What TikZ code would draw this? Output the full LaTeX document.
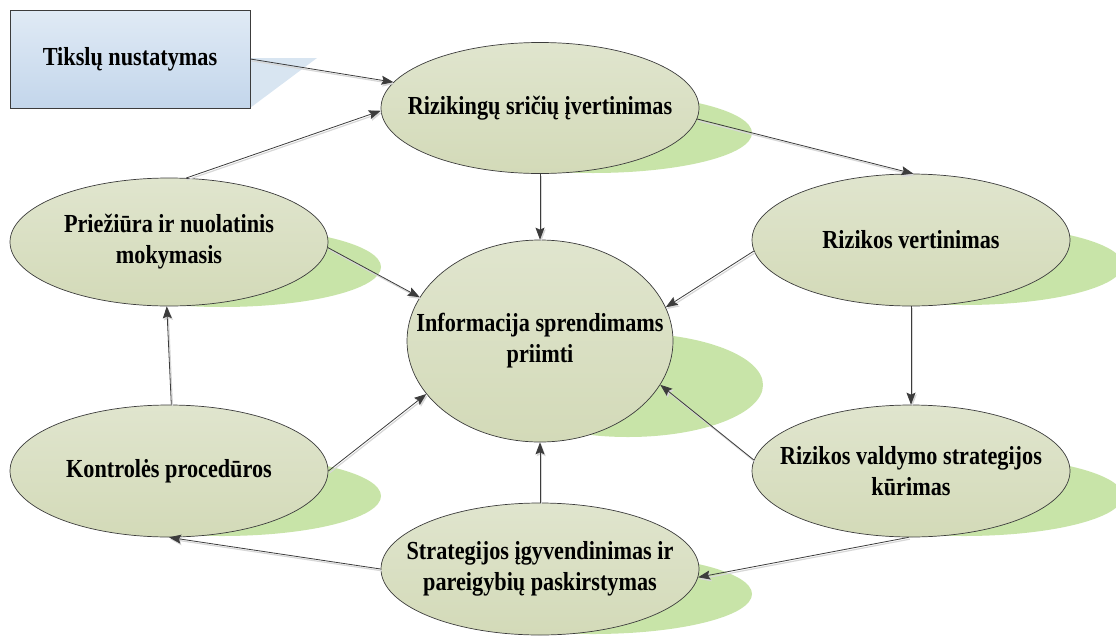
\documentclass[tikz,border=0pt]{standalone}
\usepackage{fontspec}
\setmainfont{Liberation Serif}[FakeStretch=0.855]
\usetikzlibrary{arrows.meta,shapes.geometric}
\definecolor{ellTop}{RGB}{224,229,206}
\definecolor{ellBot}{RGB}{211,218,184}
\definecolor{shadowG}{RGB}{200,228,168}
\definecolor{boxTop}{RGB}{224,234,245}
\definecolor{boxBot}{RGB}{195,214,235}
\definecolor{tailB}{RGB}{216,229,241}
\definecolor{lineG}{RGB}{60,60,60}
\definecolor{lineS}{RGB}{215,215,215}
\begin{document}
\begin{tikzpicture}[x=1pt,y=-1pt,
  lbl/.style={font=\fontsize{26}{31}\selectfont\bfseries, align=center, inner sep=0pt},
  ell/.style={ellipse, draw=lineG, line width=0.7pt, top color=ellTop, bottom color=ellBot,
    inner sep=0pt},
  shad/.style={fill=shadowG},
  conn/.style={draw=lineG, line width=0.8pt, -{Stealth[length=12pt,width=9pt,inset=2pt]},
    preaction={draw=lineS, line width=1.2pt, -{Stealth[length=12pt,width=9pt,inset=2pt]},
      transform canvas={shift={(1.2pt,-1.8pt)}}}}
]
\useasboundingbox (0,0) rectangle (1116,635);
% shadows
\fill[shad] (593,133) ellipse [x radius=159, y radius=40];
\fill[shad] (222,267) ellipse [x radius=159, y radius=40];
\fill[shad] (964,265) ellipse [x radius=159, y radius=40];
\fill[shad] (628,385) ellipse [x radius=135, y radius=52];
\fill[shad] (222,496) ellipse [x radius=159, y radius=40];
\fill[shad] (964,496) ellipse [x radius=159, y radius=40];
\fill[shad] (593,594) ellipse [x radius=159, y radius=40];
% callout tail
\fill[tailB] (250,58) -- (317,58) -- (250,108) -- cycle;
% box
\node[draw=lineG, line width=0.7pt, top color=boxTop, bottom color=boxBot, minimum width=240pt,
  minimum height=98pt, inner sep=0pt, lbl] (goal) at (130,59) {Tikslų nustatymas};
% ellipses
\node[ell, minimum width=318pt, minimum height=131pt,
  label={[lbl]center:{Rizikingų sričių įvertinimas}}] (riz) at (540,108) {};
\node[ell, minimum width=318pt, minimum height=128pt,
  label={[lbl]center:{Priežiūra ir nuolatinis\\mokymasis}}] (prie) at (169,242) {};
\node[ell, minimum width=318pt, minimum height=132pt,
  label={[lbl]center:{Rizikos vertinimas}}] (rv) at (911,240) {};
\node[ell, minimum width=266pt, minimum height=202pt,
  label={[lbl]center:{Informacija sprendimams\\priimti}}] (info) at (540,341) {};
\node[ell, minimum width=318pt, minimum height=132pt,
  label={[lbl]center:{Kontrolės procedūros}}] (kon) at (169,471) {};
\node[ell, minimum width=318pt, minimum height=132pt,
  label={[lbl]center:{Rizikos valdymo strategijos\\kūrimas}}] (rvald) at (911,471) {};
\node[ell, minimum width=318pt, minimum height=132pt,
  label={[lbl]center:{Strategijos įgyvendinimas ir\\pareigybių paskirstymas}}] (strat) at (540,569) {};
% connectors
\draw[conn] (goal.east) -- (riz.170);
\draw[conn] (prie.75) -- (riz.181);
\draw[conn] (riz.-4) -- (rv.88);
\draw[conn] (riz.south) -- (info.north);
\draw[conn] (prie.-2) -- (info.160);
\draw[conn] (rv.184) -- (info.15);
\draw[conn] (rv.south) -- (rvald.north);
\draw[conn] (rvald.176) -- (info.-20);
\draw[conn] (rvald.268) -- (strat.-3);
\draw[conn] (strat.north) -- (info.south);
\draw[conn] (strat.180) -- (kon.south);
\draw[conn] (kon.0) -- (info.205);
\draw[conn] (kon.88) -- (prie.268);
\end{tikzpicture}
\end{document}
